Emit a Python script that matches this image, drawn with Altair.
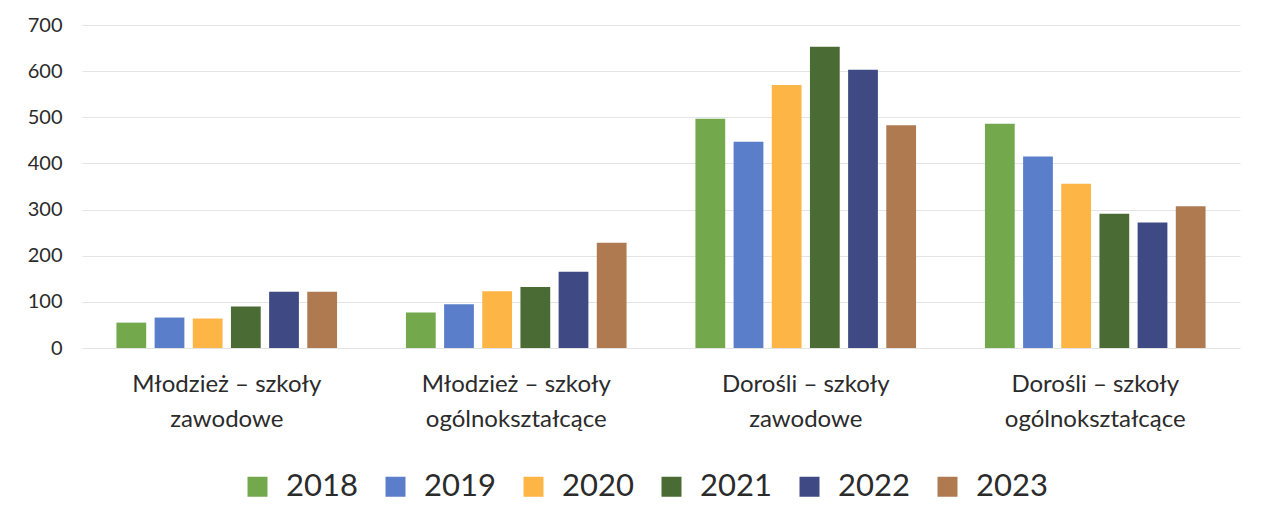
import altair as alt
import pandas as pd

categories = [
    "Młodzież – szkoły zawodowe",
    "Młodzież – szkoły ogólnokształcące",
    "Dorośli – szkoły zawodowe",
    "Dorośli – szkoły ogólnokształcące",
]
years = ["2018", "2019", "2020", "2021", "2022", "2023"]
values = {
    "2018": [55, 77, 497, 486],
    "2019": [66, 95, 447, 415],
    "2020": [64, 123, 570, 356],
    "2021": [90, 132, 653, 291],
    "2022": [122, 165, 603, 272],
    "2023": [122, 228, 483, 307],
}
colors = ["#73A84C", "#5B7ECB", "#FDB546", "#4B6B34", "#3F4A85", "#B07A50"]
y_ticks = [0, 100, 200, 300, 400, 500, 600, 700]

rows = []
for y in years:
    for c, v in zip(categories, values[y]):
        rows.append({"kategoria": c, "rok": y, "wartosc": v})
df = pd.DataFrame(rows)

FONT = "Lato"

label_expr = ("[slice(datum.label, 0, indexof(datum.label, 'szkoły') + 6), "
              "slice(datum.label, indexof(datum.label, 'szkoły') + 7)]")

chart = alt.Chart(df).mark_bar().encode(
    x=alt.X("kategoria:N", sort=categories, title=None,
            scale=alt.Scale(paddingInner=0.23, paddingOuter=0.115),
            axis=alt.Axis(labelAngle=0, labelExpr=label_expr, labelFontSize=24,
                          labelLineHeight=35, labelPadding=24, labelColor="#2b2b2b",
                          labelLimit=400,
                          labelFont=FONT, domain=False, ticks=False, grid=False)),
    xOffset=alt.XOffset("rok:N", sort=years,
                        scale=alt.Scale(paddingInner=0.22, paddingOuter=0.03)),
    y=alt.Y("wartosc:Q", title=None,
            scale=alt.Scale(domain=[0, 700], nice=False),
            axis=alt.Axis(values=y_ticks, labelFontSize=20, labelColor="#2b2b2b",
                          labelFont=FONT, labelPadding=20, domain=False, ticks=False,
                          gridColor="#e4e4e4", gridWidth=1)),
    color=alt.Color("rok:N", sort=years,
                    scale=alt.Scale(domain=years, range=colors),
                    legend=alt.Legend(title=None, orient="none", direction="horizontal",
                                      legendX=160, legendY=446,
                                      symbolType="square", symbolSize=400,
                                      symbolStrokeWidth=0, symbolOpacity=1,
                                      labelFontSize=31, labelFont=FONT,
                                      labelColor="#2b2b2b", labelOffset=13,
                                      labelLimit=200, columnPadding=22)),
).properties(
    width=1158, height=323,
    autosize=alt.AutoSizeParams(type="none"),
    padding={"left": 74, "top": 17, "right": 13, "bottom": 166},
    background="white",
).configure_view(stroke=None)

chart.save("out.html", embed_options={"renderer": "svg", "actions": False})
